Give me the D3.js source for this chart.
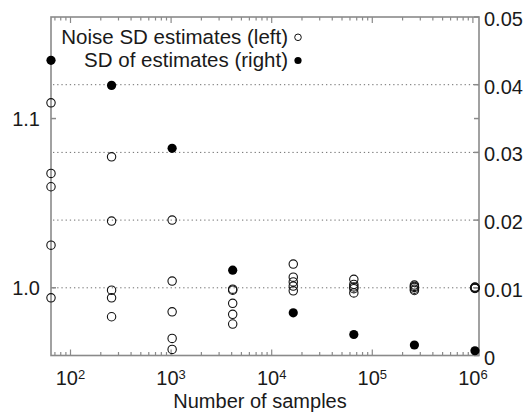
<!DOCTYPE html>
<html>
<head>
<meta charset="utf-8">
<script src="https://cdn.jsdelivr.net/npm/d3@7"></script>
<style>
  body { margin: 0; background: #fff; }
  text { font-family: "Liberation Sans", Arial, sans-serif; fill: #1a1a1a; }
</style>
</head>
<body>
<div id="chart"></div>
<script>
// number of samples (x) and the two series
var samples = [64, 256, 1024, 4096, 16384, 65536, 262144, 1048576];

// noise SD estimates, several runs per sample size (left axis)
var noiseEstimates = [
  [1.1093, 1.0676, 1.0597, 1.0252, 0.9941],
  [1.0774, 1.0394, 0.9986, 0.9941, 0.9829],
  [1.0400, 1.0040, 0.9858, 0.9701, 0.9636],
  [0.9992, 0.9986, 0.9908, 0.9843, 0.9786],
  [1.0140, 1.0063, 1.0035, 1.0010, 0.9982],
  [1.0050, 1.0020, 1.0005, 0.9995, 0.9970],
  [1.0016, 1.0008, 1.0002, 0.9992, 0.9984],
  [1.0004, 1.0002, 1.0000, 0.9998, 0.9996]
];

// SD of the estimates (right axis)
var sdOfEstimates = [0.0436, 0.0399, 0.0306, 0.0126, 0.0063, 0.0031, 0.00155, 0.0007];

var xTicks = [100, 1000, 10000, 100000, 1000000];
var leftTicks = [1.0, 1.1];
var rightTicks = [0, 0.01, 0.02, 0.03, 0.04, 0.05];
var gridValues = [0.01, 0.02, 0.03, 0.04];

var legendLabels = ["Noise SD estimates (left)", "SD of estimates (right)"];
var xLabel = "Number of samples";

var W = 531, H = 414;
var plot = {left: 51, right: 479, top: 17, bottom: 355.5};
var axisColor = "#8a8a8a";

var svg = d3.select("#chart").append("svg")
  .attr("width", W)
  .attr("height", H);

var x = d3.scaleLog().domain([64, 1.15e6]).range([plot.left, plot.right]);
var yLeft = d3.scaleLinear().domain([0.96, 1.16]).range([plot.bottom, plot.top]);
var yRight = d3.scaleLinear().domain([0, 0.05]).range([plot.bottom, plot.top]);

/****** GRID ******/
svg.append("g").selectAll("line")
  .data(gridValues)
  .enter().append("line")
    .attr("x1", plot.left + 2)
    .attr("x2", plot.right)
    .attr("y1", d => yRight(d))
    .attr("y2", d => yRight(d))
    .attr("stroke", "#6e6e6e")
    .attr("stroke-width", 1)
    .attr("stroke-dasharray", "1.3,2.9");

/****** AXES BOX + TICKS ******/
var axes = svg.append("g");

// log minor/major ticks on top and bottom
var logTicks = [];
for (var e = 1; e <= 6; e++) {
  for (var m = 1; m <= 9; m++) {
    var v = m * Math.pow(10, e);
    if (v >= 64 && v <= 1.15e6) logTicks.push({v: v, major: m === 1});
  }
}
axes.selectAll("line.xb")
  .data(logTicks)
  .enter().append("line")
    .attr("x1", d => x(d.v)).attr("x2", d => x(d.v))
    .attr("y1", plot.bottom)
    .attr("y2", d => plot.bottom - (d.major ? 6 : 3.5))
    .attr("stroke", axisColor).attr("stroke-width", 1.2);
axes.selectAll("line.xt")
  .data(logTicks)
  .enter().append("line")
    .attr("x1", d => x(d.v)).attr("x2", d => x(d.v))
    .attr("y1", plot.top)
    .attr("y2", d => plot.top + (d.major ? 6 : 3.5))
    .attr("stroke", axisColor).attr("stroke-width", 1.2);

// left ticks (mirrored on the right side)
axes.selectAll("line.yl")
  .data(leftTicks)
  .enter().append("line")
    .attr("x1", plot.left).attr("x2", plot.left + 5)
    .attr("y1", d => yLeft(d)).attr("y2", d => yLeft(d))
    .attr("stroke", axisColor).attr("stroke-width", 1.5);
axes.selectAll("line.ylr")
  .data(leftTicks)
  .enter().append("line")
    .attr("x1", plot.right).attr("x2", plot.right - 5)
    .attr("y1", d => yLeft(d)).attr("y2", d => yLeft(d))
    .attr("stroke", axisColor).attr("stroke-width", 1.5);

// right ticks
axes.selectAll("line.yr")
  .data(rightTicks)
  .enter().append("line")
    .attr("x1", plot.right).attr("x2", plot.right - 5)
    .attr("y1", d => yRight(d)).attr("y2", d => yRight(d))
    .attr("stroke", axisColor).attr("stroke-width", 1.5);

axes.append("rect")
  .attr("x", plot.left)
  .attr("y", plot.top)
  .attr("width", plot.right - plot.left)
  .attr("height", plot.bottom - plot.top)
  .attr("fill", "none")
  .attr("stroke", axisColor)
  .attr("stroke-width", 1.6);

/****** TICK LABELS ******/
var xl = svg.append("g").selectAll("text")
  .data(xTicks)
  .enter().append("text")
    .attr("x", d => x(d))
    .attr("y", 385)
    .attr("text-anchor", "middle")
    .style("font-size", "20px");
xl.append("tspan").text("10");
xl.append("tspan")
  .attr("dy", -6)
  .style("font-size", "13px")
  .text(d => Math.round(Math.log10(d)));

svg.append("g").selectAll("text")
  .data(leftTicks)
  .enter().append("text")
    .attr("x", 40)
    .attr("y", d => yLeft(d) + 7)
    .attr("text-anchor", "end")
    .style("font-size", "20px")
    .text(d => d3.format(".1f")(d));

svg.append("g").selectAll("text")
  .data(rightTicks)
  .enter().append("text")
    .attr("x", 484)
    .attr("y", d => yRight(d) + 9)
    .attr("text-anchor", "start")
    .style("font-size", "20px")
    .text(d => d === 0 ? "0" : d3.format(".2f")(d));

svg.append("text")
  .attr("x", 260)
  .attr("y", 408)
  .attr("text-anchor", "middle")
  .style("font-size", "20px")
  .text(xLabel);

/****** DATA ******/
var openPts = [];
samples.forEach(function(s, i) {
  noiseEstimates[i].forEach(function(v) { openPts.push({n: s, v: v}); });
});

svg.append("g").selectAll("circle")
  .data(openPts)
  .enter().append("circle")
    .attr("cx", d => x(d.n))
    .attr("cy", d => yLeft(d.v))
    .attr("r", 4.2)
    .attr("fill", "none")
    .attr("stroke", "#111")
    .attr("stroke-width", 1.1);

svg.append("g").selectAll("circle")
  .data(sdOfEstimates)
  .enter().append("circle")
    .attr("cx", (d, i) => x(samples[i]))
    .attr("cy", d => yRight(d))
    .attr("r", 4.6)
    .attr("fill", "#000");

/****** LEGEND ******/
var leg = svg.append("g");
leg.selectAll("text")
  .data(legendLabels)
  .enter().append("text")
    .attr("x", 288)
    .attr("y", (d, i) => 44 + i * 22.5)
    .attr("text-anchor", "end")
    .style("font-size", "20.5px")
    .text(d => d);
leg.append("circle")
  .attr("cx", 298).attr("cy", 37.3).attr("r", 3.3)
  .attr("fill", "none").attr("stroke", "#111").attr("stroke-width", 1);
leg.append("circle")
  .attr("cx", 298).attr("cy", 60.5).attr("r", 3.6)
  .attr("fill", "#000");
</script>
</body>
</html>
